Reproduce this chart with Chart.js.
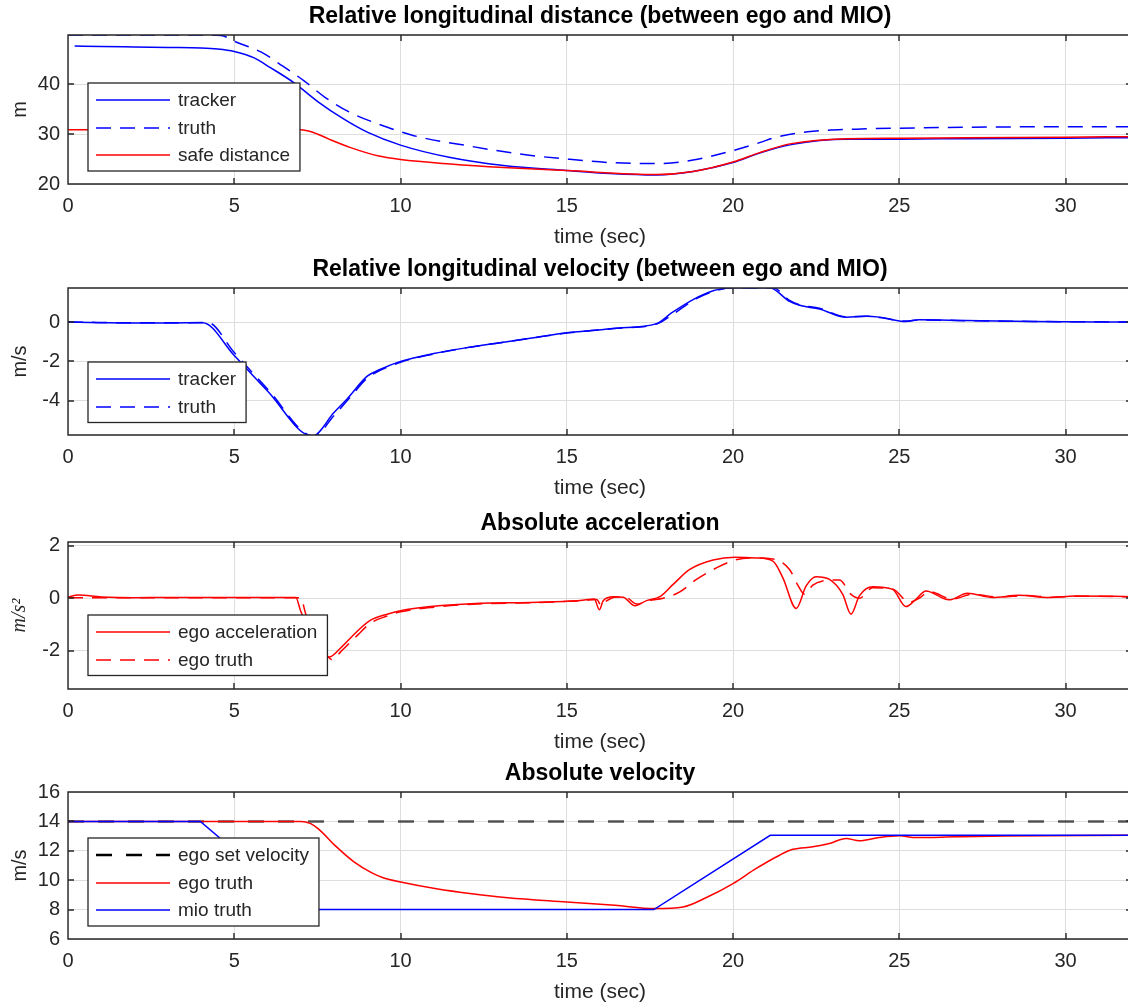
<!DOCTYPE html>
<html>
<head>
<meta charset="utf-8">
<script src="https://cdn.jsdelivr.net/npm/chart.js@4.4.1/dist/chart.umd.min.js"></script>
<style>
  html, body { margin: 0; padding: 0; background: #fff; }
  #fig { position: relative; width: 1128px; height: 1004px; overflow: hidden; background: #fff; }
  #fig canvas { position: absolute; left: 0; }
</style>
</head>
<body>
<div id="fig">
  <canvas id="distChart" width="1136" height="257" style="top:-1px"></canvas>
  <canvas id="relVelChart" width="1136" height="255" style="top:252px"></canvas>
  <canvas id="accChart" width="1136" height="255" style="top:506px"></canvas>
  <canvas id="absVelChart" width="1136" height="255" style="top:756px"></canvas>
</div>
<script>
// Shared x axis (time in seconds)
const xTicks = [0, 5, 10, 15, 20, 25, 30];

// --- Relative longitudinal distance (m) ---
const distTrackerTime = [0.2, 1, 2, 3, 4, 4.5, 5, 5.6, 6.1, 6.8, 7.5, 8.3, 9, 10, 11.5, 13.1, 15, 16.3, 17.7, 18.8, 20, 20.8, 21.75, 23.4, 25, 27, 30, 32];
const distTracker = [47.7, 47.6, 47.5, 47.4, 47.3, 47.1, 46.6, 45.3, 43.3, 40.3, 36.6, 33.0, 30.4, 27.8, 25.3, 23.7, 22.7, 22.1, 21.8, 22.5, 24.3, 26.2, 27.9, 29.0, 29.0, 29.1, 29.2, 29.3];
const distTruthTime = [0, 1, 2, 3, 4, 4.6, 5.05, 5.8, 6.45, 7.1, 7.75, 8.5, 9.35, 10.4, 12, 13.6, 15, 16.3, 17.7, 18.8, 20, 20.8, 21.25, 22.25, 23.7, 25, 27.2, 30, 32];
const distTruth = [49.9, 49.9, 49.9, 49.9, 49.9, 49.8, 48.5, 46.5, 43.7, 40.7, 37.3, 34.3, 32.0, 29.7, 27.7, 26.0, 25.0, 24.3, 24.1, 24.8, 26.7, 28.3, 29.3, 30.5, 31.0, 31.2, 31.4, 31.5, 31.5];
const safeDistTime = [0, 1, 2, 3, 4, 5, 6, 7, 7.4, 7.85, 8.5, 9.35, 10, 11.5, 13.1, 15, 17.7, 18.8, 20, 20.8, 21.75, 23.4, 25, 27, 30, 32];
const safeDist = [30.9, 30.9, 30.9, 30.9, 30.9, 30.9, 30.9, 30.9, 30.3, 29.0, 27.3, 25.6, 24.9, 24.0, 23.3, 22.7, 21.9, 22.5, 24.4, 26.3, 28.1, 29.1, 29.2, 29.3, 29.4, 29.5];
const distTicks = [20, 30, 40];

// --- Relative longitudinal velocity (m/s) ---
const relVelTrackerTime = [0, 1, 2, 3, 4.05, 5, 6, 7.35, 8, 8.4, 9, 9.4, 10, 11, 12, 13, 14, 15, 15.5, 16.5, 17.7, 18.15, 18.8, 19.4, 20, 21.1, 21.7, 22.0, 22.6, 23.4, 24.0, 24.4, 25.2, 25.6, 27, 29, 32];
const relVelTracker = [0, -0.03, -0.05, -0.05, -0.03, -1.7, -3.5, -5.8, -4.6, -3.9, -2.75, -2.4, -2.0, -1.6, -1.3, -1.05, -0.8, -0.55, -0.47, -0.31, -0.08, 0.46, 1.14, 1.59, 1.75, 1.75, 1.05, 0.85, 0.66, 0.24, 0.29, 0.25, 0.03, 0.12, 0.08, 0.03, 0.0];
const relVelTruthTime = [0, 1, 2, 3, 4.2, 5, 6, 7.4, 8, 8.5, 9, 10, 11, 12, 13, 14, 15, 16.5, 17.7, 18.2, 18.8, 19.4, 20, 21.2, 21.7, 22.0, 22.6, 23.4, 24.0, 24.4, 25.2, 25.6, 27, 29, 32];
const relVelTruth = [0, -0.02, -0.04, -0.04, -0.02, -1.55, -3.4, -5.8, -4.75, -3.8, -2.85, -2.05, -1.62, -1.3, -1.05, -0.8, -0.56, -0.32, -0.1, 0.4, 1.1, 1.55, 1.75, 1.75, 1.1, 0.88, 0.7, 0.27, 0.3, 0.23, 0.05, 0.11, 0.07, 0.03, 0.0];
const relVelTicks = [-4, -2, 0];

// --- Absolute acceleration (m/s^2) ---
const egoAccTime = [0, 0.3, 1, 2, 3, 4, 5, 6, 6.85, 7.0, 7.3, 7.6, 7.85, 8.2, 8.7, 9.1, 9.6, 10, 10.9, 12.4, 13.9, 14.9, 15.4, 15.83, 15.98, 16.1, 16.4, 16.7, 17.05, 17.4, 17.8, 18.2, 18.7, 19.4, 20.06, 20.7, 21.2, 21.5, 21.9, 22.2, 22.5, 22.9, 23.3, 23.55, 23.8, 24.2, 24.8, 25.2, 25.5, 25.8, 26.5, 27.05, 27.8, 28.6, 29.5, 30.3, 32];
const egoAcc = [0.05, 0.12, 0.05, 0.02, 0.03, 0.03, 0.03, 0.03, 0.03, -0.5, -1.3, -2.0, -2.25, -1.9, -1.26, -0.84, -0.61, -0.48, -0.32, -0.19, -0.16, -0.12, -0.09, -0.03, -0.44, -0.09, 0.06, 0.04, -0.29, -0.09, 0.06, 0.53, 1.1, 1.46, 1.57, 1.54, 1.42, 0.78, -0.39, 0.47, 0.82, 0.72, 0.15, -0.61, 0.09, 0.44, 0.34, -0.32, -0.04, 0.28, -0.06, 0.19, 0.03, 0.11, 0.03, 0.09, 0.06];
const egoAccTruthTime = [0, 1, 2, 3, 4, 5, 6, 7.0, 7.15, 7.5, 7.95, 8.2, 8.7, 9.1, 9.6, 10, 11, 12.5, 14, 15, 15.5, 15.9, 16.05, 16.2, 16.5, 16.8, 17.1, 17.5, 17.9, 18.4, 18.9, 19.5, 20.06, 20.5, 21.2, 21.7, 21.95, 22.15, 22.4, 22.7, 23.2, 23.55, 23.8, 24.2, 24.8, 25.3, 25.6, 25.9, 26.6, 27.2, 28, 28.8, 29.6, 30.5, 32];
const egoAccTruth = [0.02, 0.02, 0.02, 0.02, 0.02, 0.02, 0.02, 0.02, -0.6, -1.5, -2.35, -2.05, -1.42, -0.95, -0.68, -0.52, -0.34, -0.21, -0.17, -0.12, -0.09, -0.05, -0.3, -0.1, 0.05, 0.02, -0.22, -0.08, 0.0, 0.24, 0.72, 1.16, 1.46, 1.54, 1.5, 1.1, 0.5, 0.15, 0.5, 0.66, 0.7, 0.15, 0.0, 0.4, 0.35, -0.15, 0.0, 0.25, -0.03, 0.15, 0.05, 0.1, 0.04, 0.08, 0.05];
const accTicks = [-2, 0, 2];

// --- Absolute velocity (m/s) ---
const setVelTime = [0, 32];
const setVel = [14, 14];
const egoVelTime = [0, 4, 7.0, 7.3, 7.53, 8.06, 8.6, 9.14, 9.5, 10, 11.08, 12.15, 13.23, 15, 16.45, 17.63, 18.5, 19.2, 20, 20.7, 21.4, 21.8, 22.4, 22.9, 23.4, 23.8, 24.4, 25, 25.5, 26.7, 28.2, 32];
const egoVel = [14, 14, 14, 13.85, 13.49, 12.3, 11.25, 10.5, 10.15, 9.88, 9.42, 9.08, 8.81, 8.52, 8.29, 8.07, 8.18, 8.82, 9.77, 10.8, 11.7, 12.1, 12.27, 12.5, 12.84, 12.68, 12.9, 13.02, 12.9, 12.95, 13.0, 13.05];
const mioVelTime = [0, 3.98, 7.1, 17.62, 21.12, 32];
const mioVel = [14, 14, 8, 8, 13.05, 13.05];
const absVelTicks = [6, 8, 10, 12, 14, 16];

function pairs(t, v) {
  return t.map((x, i) => ({ x: x, y: v[i] }));
}

Chart.defaults.font.family = '"Liberation Sans", Arial, sans-serif';
Chart.defaults.color = "#262626";

// MATLAB style box round the axes, with short inward tick marks on all four sides
const axesBox = {
  id: "axesBox",
  afterDatasetsDraw(chart) {
    const { ctx, chartArea: a, scales: { x, y } } = chart;
    const L = Math.round(a.left), R = Math.round(a.right), T = Math.round(a.top), B = Math.round(a.bottom);
    ctx.save();
    ctx.strokeStyle = "#262626";
    ctx.lineWidth = 1.4;
    ctx.beginPath();
    ctx.rect(L, T, R - L, B - T);
    x.ticks.forEach((t) => {
      const p = Math.round(x.getPixelForValue(t.value));
      ctx.moveTo(p, B); ctx.lineTo(p, B - 6);
      ctx.moveTo(p, T); ctx.lineTo(p, T + 6);
    });
    y.ticks.forEach((t) => {
      const p = Math.round(y.getPixelForValue(t.value));
      ctx.moveTo(L, p); ctx.lineTo(L + 6, p);
      ctx.moveTo(R, p); ctx.lineTo(R - 6, p);
    });
    ctx.stroke();
    ctx.restore();
  },
};

// Legend drawn as a boxed overlay inside the plot, like MATLAB's 'best' location
const boxLegend = {
  id: "boxLegend",
  afterDraw(chart, args, opts) {
    const { ctx } = chart;
    const items = chart.data.datasets;
    const left = 88, top = opts.top, rowH = 27.5;
    ctx.save();
    ctx.font = '19px "Liberation Sans", Arial, sans-serif';
    const textW = Math.max(...items.map((d) => ctx.measureText(d.label).width));
    const w = 90 + textW + 10;
    const h = 17 + (items.length - 1) * rowH + 16;
    ctx.fillStyle = "#fff";
    ctx.fillRect(left, top, w, h);
    ctx.strokeStyle = "#262626";
    ctx.lineWidth = 1.3;
    ctx.strokeRect(left, top, w, h);
    items.forEach((d, i) => {
      const yy = Math.round(top + 17 + i * rowH);
      ctx.strokeStyle = d.legendColor || d.borderColor;
      ctx.lineWidth = d.borderWidth;
      ctx.setLineDash(d.borderDash || []);
      ctx.beginPath();
      ctx.moveTo(left + 8, yy);
      ctx.lineTo(left + 82, yy);
      ctx.stroke();
      ctx.setLineDash([]);
      ctx.fillStyle = "#262626";
      ctx.textBaseline = "middle";
      ctx.fillText(d.label, left + 90, yy + 1);
    });
    ctx.restore();
  },
};

function series(label, data, color, opts) {
  return Object.assign({
    label: label,
    data: data,
    borderColor: color,
    borderWidth: 1.5,
    pointRadius: 0,
    fill: false,
    cubicInterpolationMode: "monotone",
  }, opts || {});
}

function makePlot(id, cfg) {
  // later series are drawn on top, as in MATLAB's plot order
  cfg.datasets.forEach((d, i) => { d.order = cfg.datasets.length - i; });
  return new Chart(document.getElementById(id), {
    type: "line",
    data: { datasets: cfg.datasets },
    options: {
      responsive: false,
      animation: false,
      layout: { padding: { left: 0, right: 4, top: 0, bottom: 0 } },
      plugins: {
        legend: { display: false },
        tooltip: { enabled: false },
        title: {
          display: true,
          text: cfg.title,
          fullSize: false,
          color: "#000",
          font: { size: 23, weight: "bold" },
          padding: { top: 4.2, bottom: 4.2 },
        },
        boxLegend: { top: cfg.legendTop },
      },
      scales: {
        x: {
          type: "linear",
          min: 0,
          max: 32,
          afterBuildTicks: (s) => { s.ticks = xTicks.map((v) => ({ value: v })); },
          afterFit: (s) => { s.height = 72; },
          grid: { color: "#dedede", drawTicks: false },
          border: { display: false },
          ticks: { padding: 10.7, font: { size: 20 }, maxRotation: 0 },
          title: { display: true, text: "time (sec)", font: { size: 21 }, padding: { top: 0, bottom: 6.4 } },
        },
        y: {
          min: cfg.yMin,
          max: cfg.yMax,
          afterBuildTicks: (s) => { s.ticks = cfg.yTicks.map((v) => ({ value: v })); },
          afterFit: (s) => { s.width = 68; },
          grid: { color: "#dedede", drawTicks: false },
          border: { display: false },
          ticks: { padding: 8, font: { size: 20 } },
          title: {
            display: true,
            text: cfg.yLabel,
            font: cfg.yLabelFont || { size: 20 },
            padding: { top: 8, bottom: 0 },
          },
        },
      },
    },
    plugins: [axesBox, boxLegend],
  });
}

const dash = [15, 9];

makePlot("distChart", {
  title: "Relative longitudinal distance (between ego and MIO)",
  yLabel: "m",
  yMin: 20, yMax: 49.9, yTicks: distTicks,
  legendTop: 84,
  datasets: [
    series("tracker", pairs(distTrackerTime, distTracker), "#0000ff"),
    series("truth", pairs(distTruthTime, distTruth), "#0000ff", { borderDash: dash }),
    series("safe distance", pairs(safeDistTime, safeDist), "#ff0000"),
  ],
});

makePlot("relVelChart", {
  title: "Relative longitudinal velocity (between ego and MIO)",
  yLabel: "m/s",
  yMin: -5.74, yMax: 1.73, yTicks: relVelTicks,
  legendTop: 110,
  datasets: [
    series("tracker", pairs(relVelTrackerTime, relVelTracker), "#0000ff"),
    series("truth", pairs(relVelTruthTime, relVelTruth), "#0000ff", { borderDash: dash }),
  ],
});

makePlot("accChart", {
  title: "Absolute acceleration",
  yLabel: "m/s²",
  yLabelFont: { size: 20, style: "italic", family: '"Liberation Serif", "DejaVu Serif", serif' },
  yMin: -3.47, yMax: 2.15, yTicks: accTicks,
  legendTop: 109,
  datasets: [
    series("ego acceleration", pairs(egoAccTime, egoAcc), "#ff0000"),
    series("ego truth", pairs(egoAccTruthTime, egoAccTruth), "#ff0000", { borderDash: dash }),
  ],
});

makePlot("absVelChart", {
  title: "Absolute velocity",
  yLabel: "m/s",
  yMin: 6, yMax: 16, yTicks: absVelTicks,
  legendTop: 82,
  datasets: [
    series("ego set velocity", pairs(setVelTime, setVel), "rgba(0,0,0,0.65)", { borderDash: [16, 14], borderWidth: 2.5, legendColor: "#000", cubicInterpolationMode: "default", tension: 0 }),
    series("ego truth", pairs(egoVelTime, egoVel), "#ff0000"),
    series("mio truth", pairs(mioVelTime, mioVel), "#0000ff", { cubicInterpolationMode: "default", tension: 0 }),
  ],
});
</script>
</body>
</html>
